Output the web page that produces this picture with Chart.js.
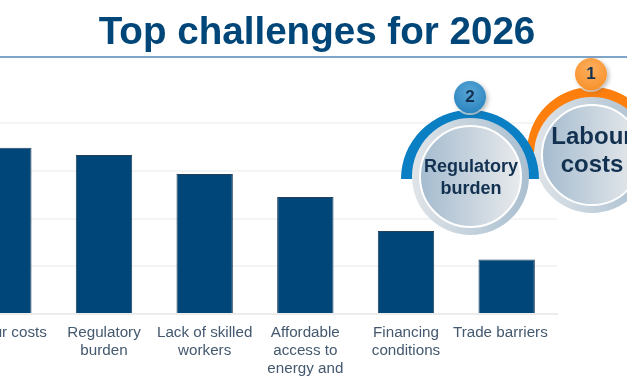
<!DOCTYPE html>
<html>
<head>
<meta charset="utf-8">
<script src="https://cdn.jsdelivr.net/npm/chart.js@4"></script>
<style>
  html, body { margin: 0; padding: 0; background: #fff; }
  body { width: 627px; height: 376px; overflow: hidden; position: relative; font-family: "Liberation Sans", sans-serif; }
  #chartCanvas { position: absolute; left: -60px; top: 0; }
  #title { position: absolute; left: 0; width: 634px; top: 9px; text-align: center; font-size: 38.6px; line-height: 44px; font-weight: bold; color: #004678; white-space: nowrap; }
  #rule { position: absolute; left: 0; width: 627px; top: 56px; height: 2px; background: #7fa5c8; }
  .arc { position: absolute; overflow: hidden; }
  .arc div { border-radius: 50%; }
  .disc { position: absolute; border-radius: 50%; box-sizing: border-box; }
  .label { position: absolute; text-align: center; font-weight: bold; color: #12304f; white-space: nowrap; }
  .badge { position: absolute; width: 32px; height: 32px; line-height: 32px; border-radius: 50%; text-align: center; font-weight: bold; font-size: 17px; color: #12304f; box-shadow: 2px 2px 4px rgba(90,90,90,.4), 0 1px 0 1px rgba(255,255,255,.7); }
</style>
</head>
<body>
<canvas id="chartCanvas" width="700" height="376"></canvas>
<div id="title">Top challenges for 2026</div>
<div id="rule"></div>

<!-- 1 -->
<div class="arc" style="left:527px;top:87px;width:130px;height:65px"><div style="width:130px;height:130px;background:#ff7f0e"></div></div>
<div class="disc" style="left:534px;top:97px;width:116px;height:116px;background:linear-gradient(90deg,#dfe4e8,#a9bfd0)"></div>
<div class="disc" style="left:541px;top:104px;width:102px;height:102px;border:2px solid #fff;background:linear-gradient(90deg,#a5bccf,#e8eaec)"></div>
<div class="label" style="left:542px;width:100px;top:122px;font-size:24px;line-height:28px">Labour<br>costs</div>
<div class="badge" style="left:575px;top:58px;background:radial-gradient(circle at 50% 35%,#ffb060,#f58a1f)">1</div>

<!-- 2 -->
<div class="arc" style="left:401px;top:110px;width:138px;height:69px"><div style="width:138px;height:138px;background:#0a7fc4"></div></div>
<div class="disc" style="left:412px;top:118px;width:117px;height:117px;background:linear-gradient(90deg,#dfe4e8,#a9bfd0)"></div>
<div class="disc" style="left:419px;top:125px;width:103px;height:103px;border:2px solid #fff;background:linear-gradient(90deg,#a5bccf,#e8eaec)"></div>
<div class="label" style="left:421px;width:100px;top:155px;font-size:18px;line-height:22px">Regulatory<br>burden</div>
<div class="badge" style="left:454px;top:81px;background:radial-gradient(circle at 50% 35%,#5aa6d6,#1f7dba)">2</div>

<script>
// Top challenges bar chart
const categories = [
  ['Labour costs'],
  ['Regulatory', 'burden'],
  ['Lack of skilled', 'workers'],
  ['Affordable', 'access to', 'energy and'],
  ['Financing', 'conditions'],
  ['Trade barriers   '] // sits left of its bar in the original
];
const values = [34.8, 33.3, 29.3, 24.5, 17.4, 11.4];
const yTicks = [0, 10, 20, 30, 40];

const ctx = document.getElementById('chartCanvas').getContext('2d');
new Chart(ctx, {
  type: 'bar',
  data: {
    labels: categories,
    datasets: [{
      data: values,
      backgroundColor: '#004678',
      borderColor: '#23405c',
      borderWidth: 1,
      categoryPercentage: 0.56,
      barPercentage: 1
    }]
  },
  options: {
    responsive: false,
    animation: false,
    layout: { padding: { left: 13, right: 83, top: 123, bottom: 0 } },
    plugins: { legend: { display: false }, tooltip: { enabled: false } },
    scales: {
      x: {
        afterFit: function(scale){ scale.height = 62; },
        grid: { display: false },
        border: { color: '#ececec', width: 2 },
        ticks: {
          color: '#44586e',
          padding: 2,
          maxRotation: 0,
          autoSkip: false,
          font: { family: '"Liberation Sans"', size: 15.2, lineHeight: 1.17 }
        }
      },
      y: {
        min: 0,
        max: 40,
        afterFit: function(scale){ scale.width = 0; },
        afterBuildTicks: function(scale){ scale.ticks = yTicks.map(v => ({ value: v })); },
        grid: { color: '#f4f4f4', lineWidth: 2, drawTicks: false },
        border: { display: false },
        ticks: { display: false }
      }
    }
  }
});
</script>
</body>
</html>
